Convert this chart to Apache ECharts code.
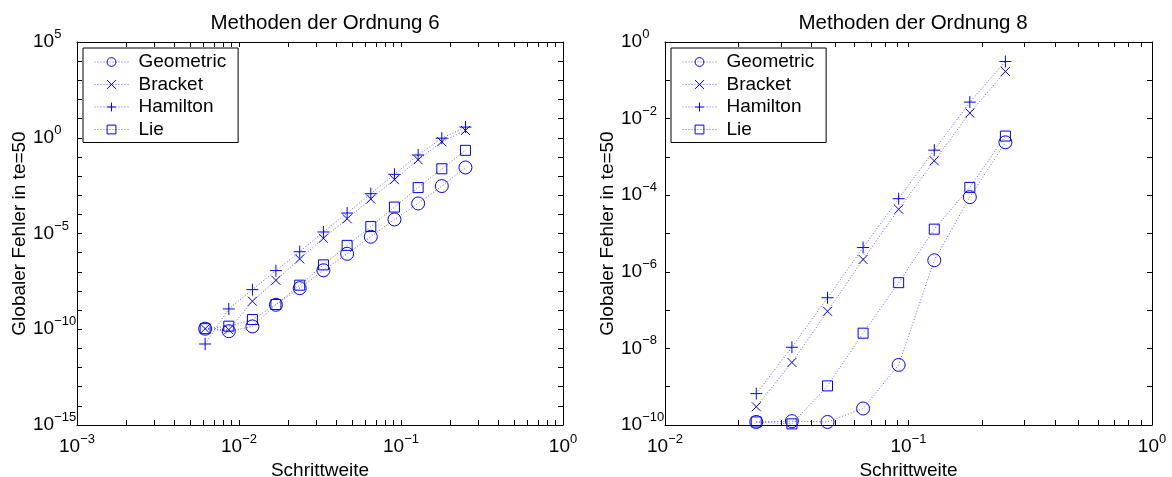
<!DOCTYPE html>
<html>
<head>
<meta charset="utf-8">
<script src="https://cdn.jsdelivr.net/npm/echarts@6/dist/echarts.min.js"></script>
<style>
  html, body { margin: 0; padding: 0; background: #ffffff; }
  #chart { width: 1172px; height: 477px; }
</style>
</head>
<body>
<div id="chart"></div>
<script>
// Step sizes (Schrittweite)
const stepOrder6 = [0.00618, 0.00865, 0.0121, 0.0169, 0.0237, 0.0332, 0.0465, 0.0651, 0.0911, 0.1276, 0.1786, 0.25];
const stepOrder8 = [0.0237, 0.0332, 0.0465, 0.0651, 0.0911, 0.1276, 0.1786, 0.25];

// Global error at te=50, order-6 methods
const geometric6 = [1.07e-10, 7.9e-11, 1.4e-10, 1.9e-9, 1.4e-8, 1.2e-7, 8.7e-7, 6.8e-6, 5.4e-5, 3.7e-4, 3.0e-3, 2.8e-2];
const bracket6   = [1.07e-10, 9.5e-11, 2.9e-9, 3.6e-8, 4.7e-7, 5.6e-6, 5.9e-5, 6.3e-4, 6.5e-3, 7.1e-2, 0.62, 2.4];
const hamilton6  = [1.7e-11, 1.15e-9, 1.17e-8, 1.15e-7, 1.12e-6, 1.2e-5, 1.17e-4, 1.2e-3, 1.23e-2, 0.126, 0.95, 3.6];
const lie6       = [1.07e-10, 1.45e-10, 3.2e-10, 1.95e-9, 2.0e-8, 2.3e-7, 2.4e-6, 2.3e-5, 2.4e-4, 2.5e-3, 2.4e-2, 0.22];

// Global error at te=50, order-8 methods
const geometric8 = [1.2e-10, 1.26e-10, 1.2e-10, 2.7e-10, 3.7e-9, 2.0e-6, 8.9e-5, 2.4e-3];
const bracket8   = [3.0e-10, 4.3e-9, 9.3e-8, 2.1e-6, 4.3e-5, 7.9e-4, 1.4e-2, 0.17];
const hamilton8  = [6.6e-10, 1.07e-8, 2.1e-7, 4.3e-6, 8.1e-5, 1.5e-3, 2.7e-2, 0.31];
const lie8       = [1.2e-10, 1.07e-10, 1.05e-9, 2.5e-8, 5.2e-7, 1.3e-5, 1.6e-4, 3.5e-3];

const methodNames = ['Geometric', 'Bracket', 'Hamilton', 'Lie'];
const panelTitles = ['Methoden der Ordnung 6', 'Methoden der Ordnung 8'];
const xAxisTitle = 'Schrittweite';
const yAxisTitle = 'Globaler Fehler in te=50';

// Tick labels (powers of ten that carry a label)
const xLabels6 = [1e-3, 1e-2, 1e-1, 1];
const yLabels6 = [1e-15, 1e-10, 1e-5, 1, 1e5];
const xLabels8 = [1e-2, 1e-1, 1];
const yLabels8 = [1e-10, 1e-8, 1e-6, 1e-4, 1e-2, 1];

const FONT = '"Liberation Sans", Arial, Helvetica, sans-serif';
const BLUE = '#0000ff';

// "10" with a raised exponent, only for the listed decades
function labelFormatter(labels) {
  return function (v) {
    const lg = Math.log10(v);
    const hit = labels.some(l => Math.abs(Math.log10(l) - lg) < 1e-6);
    if (!hit) return '';
    const e = Math.round(lg);
    const s = e < 0 ? '\u2212' + (-e) : String(e);
    return '{b|10}{e|' + s + '}';
  };
}
const labelRich = {
  b: { fontSize: 19, lineHeight: 28, fontFamily: FONT, color: '#000', verticalAlign: 'middle' },
  e: { fontSize: 13, lineHeight: 10, fontFamily: FONT, color: '#000', verticalAlign: 'top' }
};

const axisLineStyle = { show: true, onZero: false, lineStyle: { color: '#000', width: 1 } };
const majorTick = { show: true, inside: true, length: 5, lineStyle: { color: '#000', width: 1 } };
const minorTickX = { show: true, splitNumber: 9, length: 5, lineStyle: { color: '#000', width: 1 } };

function xAxes(grid, min, max, labels) {
  const common = {
    gridIndex: grid, type: 'log', logBase: 10, min: min, max: max, interval: 1,
    axisLine: axisLineStyle, axisTick: majorTick, minorTick: minorTickX,
    splitLine: { show: false }, minorSplitLine: { show: false }
  };
  return [
    Object.assign({}, common, {
      position: 'bottom',
      axisLabel: { formatter: labelFormatter(labels), rich: labelRich, margin: 8, hideOverlap: false },
      name: xAxisTitle, nameLocation: 'middle', nameGap: 29,
      nameTextStyle: { fontSize: 19, fontFamily: FONT, color: '#000' }
    }),
    Object.assign({}, common, { position: 'top', axisLabel: { show: false } })
  ];
}

function yAxes(grid, min, max, labels) {
  const common = {
    gridIndex: grid, type: 'log', logBase: 10, min: min, max: max, interval: 1,
    axisLine: axisLineStyle, axisTick: majorTick,
    splitLine: { show: false }
  };
  return [
    Object.assign({}, common, {
      position: 'left',
      axisLabel: { formatter: labelFormatter(labels), rich: labelRich, align: 'left', margin: 44, hideOverlap: false },
      name: yAxisTitle, nameLocation: 'middle', nameGap: 46, nameRotate: 90,
      nameTextStyle: { fontSize: 19, fontFamily: FONT, color: '#000' }
    }),
    Object.assign({}, common, { position: 'right', axisLabel: { show: false } })
  ];
}

const markerShapes = [
  { symbol: 'circle', size: 13 },
  { symbol: 'path://M0,0L10,10M10,0L0,10', size: 9 },
  { symbol: 'path://M5,0L5,10M0,5L10,5', size: 12 },
  { symbol: 'path://M0,0L10,0L10,10L0,10Z', size: 10 }
];

function makeSeries(name, idx, xs, ys, xAxisIndex, yAxisIndex) {
  return {
    type: 'line', name: name,
    xAxisIndex: xAxisIndex, yAxisIndex: yAxisIndex,
    data: xs.map((x, i) => [x, ys[i]]),
    symbol: markerShapes[idx].symbol,
    symbolSize: markerShapes[idx].size,
    showAllSymbol: true,
    clip: false,
    lineStyle: { color: 'rgba(40,40,255,0.75)', width: 1, type: [1, 2] },
    itemStyle: { color: 'rgba(0,0,0,0)', borderColor: BLUE, borderWidth: 1 },
    emphasis: { disabled: true },
    z: 3
  };
}

const values6 = [geometric6, bracket6, hamilton6, lie6];
const values8 = [geometric8, bracket8, hamilton8, lie8];

const series = [];
methodNames.forEach((n, i) => series.push(makeSeries(n, i, stepOrder6, values6[i], 0, 0)));
methodNames.forEach((n, i) => series.push(makeSeries(n, i, stepOrder8, values8[i], 2, 2)));

function legendAt(left) {
  return {
    data: methodNames, orient: 'vertical', left: left, top: 48,
    padding: [4, 12, 3, 11], itemGap: 2.5, itemWidth: 34, itemHeight: 11,
    backgroundColor: '#fff', borderColor: '#000', borderWidth: 1,
    selectedMode: false,
    itemStyle: { color: 'rgba(0,0,0,0)', borderColor: BLUE, borderWidth: 1 },
    lineStyle: { color: 'rgba(40,40,255,0.75)', width: 1, type: [1, 2] },
    textStyle: { fontSize: 19, fontFamily: FONT, color: '#000', lineHeight: 20, padding: [0, 0, 0, 5] }
  };
}

const titleText = { fontSize: 20.5, fontWeight: 'normal', fontFamily: FONT, color: '#000' };

const option = {
  animation: false,
  backgroundColor: '#ffffff',
  title: [
    { text: panelTitles[0], left: 320, top: 8, textAlign: 'center', textStyle: titleText },
    { text: panelTitles[1], left: 908, top: 8, textAlign: 'center', textStyle: titleText }
  ],
  legend: [legendAt(83), legendAt(671)],
  grid: [
    { left: 77, top: 42, width: 486, height: 383, outerBoundsMode: 'none' },
    { left: 665, top: 42, width: 487, height: 383, outerBoundsMode: 'none' }
  ],
  xAxis: [].concat(
    xAxes(0, 1e-3, 1, xLabels6),
    xAxes(1, 1e-2, 1, xLabels8)
  ),
  yAxis: [].concat(
    yAxes(0, 1e-15, 1e5, yLabels6),
    yAxes(1, 1e-10, 1, yLabels8)
  ),
  series: series
};

const chart = echarts.init(document.getElementById('chart'), null, { renderer: 'canvas' });
chart.setOption(option);
</script>
</body>
</html>
